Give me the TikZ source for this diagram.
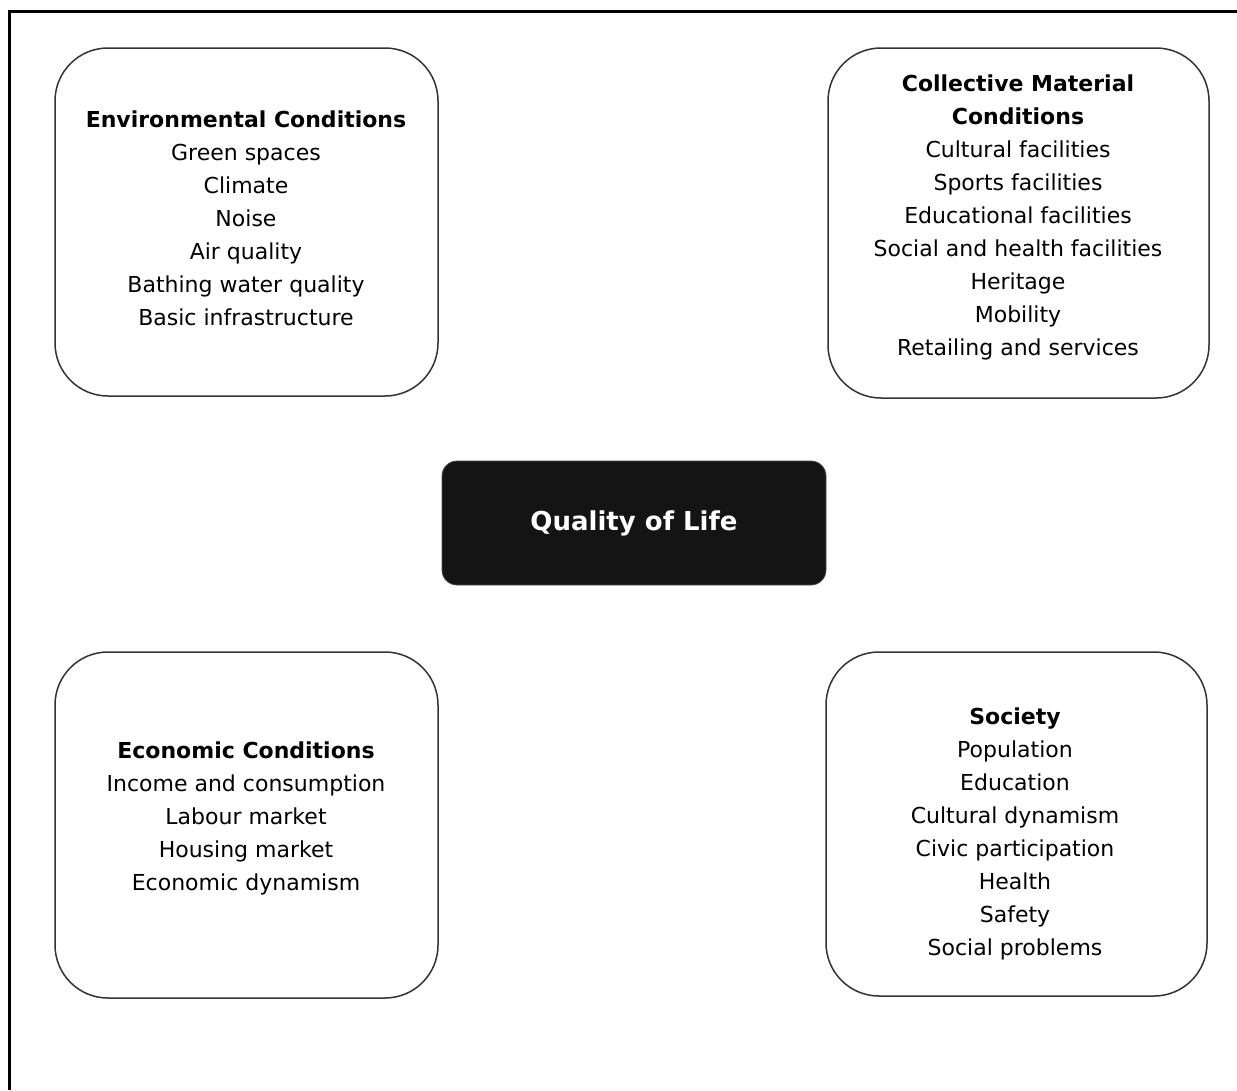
\documentclass[tikz,border=0pt]{standalone}
\usepackage{fontspec}
\setmainfont{DejaVu Sans}
\begin{document}
\begin{tikzpicture}[x=1pt,y=-1pt,
  factor/.style={draw=black!80,line width=1.5pt,rounded corners=53pt},
  body/.style={align=center,font=\fontsize{22}{33}\selectfont,inner sep=0pt},
  core/.style={fill=black!92,draw=black!70,line width=0.8pt,rounded corners=15pt,
    text=white,font=\fontsize{26}{32}\selectfont\bfseries,
    minimum width=384pt,minimum height=124pt,inner sep=0pt}]
\useasboundingbox (0,0) rectangle (1237,1090);
\draw[line width=3pt] (9,1090) -- (9,11) -- (1237,11);
% boxes
\draw[factor] (55,48) rectangle (438,396);
\draw[factor] (828,48) rectangle (1209,398);
\draw[factor] (55,652) rectangle (438,998);
\draw[factor] (826,652) rectangle (1207,996);
\node[core] (qol) at (634,523) {Quality of Life};
\node[body] (env) at (246,218) {\textbf{Environmental Conditions}\\Green spaces\\Climate\\Noise\\Air quality\\Bathing water quality\\Basic infrastructure};
\node[body] (coll) at (1018,217) {\textbf{Collective Material}\\\textbf{Conditions}\\Cultural facilities\\Sports facilities\\Educational facilities\\Social and health facilities\\Heritage\\Mobility\\Retailing and services};
\node[body] (econ) at (246,818) {\textbf{Economic Conditions}\\Income and consumption\\Labour market\\Housing market\\Economic dynamism};
\node[body] (soc) at (1015,834) {\textbf{Society}\\Population\\Education\\Cultural dynamism\\Civic participation\\Health\\Safety\\Social problems};
\end{tikzpicture}
\end{document}
